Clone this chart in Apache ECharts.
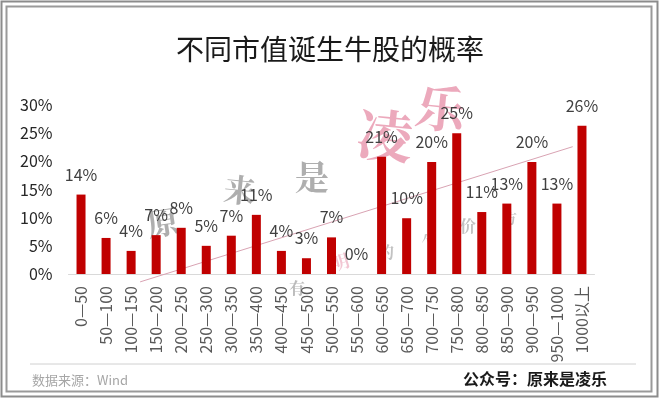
<!DOCTYPE html>
<html>
<head>
<meta charset="utf-8">
<script src="https://cdn.jsdelivr.net/npm/echarts@6/dist/echarts.min.js"></script>
<style>
html,body{margin:0;padding:0;background:#fff;}
#main{width:660px;height:399px;}
</style>
</head>
<body>
<div id="main"></div>
<script>
// 市值区间
var categories = ['0—50','50—100','100—150','150—200','200—250','250—300','300—350','350—400','400—450','450—500','500—550','550—600','600—650','650—700','700—750','750—800','800—850','850—900','900—950','950—1000','1000以上'];
// 牛股概率(%)
var probValues = [14.1, 6.4, 4.1, 6.9, 8.2, 5.0, 6.8, 10.5, 4.1, 2.8, 6.5, 0, 20.8, 9.9, 19.9, 25.0, 11.0, 12.5, 19.9, 12.5, 26.3];
// 趋势线两端(类目序号, 百分比)
var trendX = [2.36, 19.63];
var trendY = [-1.4, 22.6];
var yTicks = [0, 5, 10, 15, 20, 25, 30];

var fontCJK = '"Noto Sans CJK SC", "Noto Sans", sans-serif';
var myChart = echarts.init(document.getElementById('main'));

var trendData = [];
for (var i = 0; i < trendX.length; i++) {
	trendData.push([trendX[i], trendY[i]]);
}

//水印文字
var marks = [
	{t:'原', x:163, y:222, s:32, c:'rgba(120,120,120,0.6)', r:0.15},
	{t:'来', x:240, y:190, s:32, c:'rgba(120,120,120,0.6)', r:-0.1},
	{t:'是', x:312, y:177, s:34, c:'rgba(120,120,120,0.6)', r:0},
	{t:'凌', x:385, y:135, s:56, c:'rgba(230,140,165,0.75)', r:-0.1},
	{t:'乐', x:440, y:108, s:50, c:'rgba(230,140,165,0.75)', r:-0.1},
	{t:'有', x:297, y:288, s:16, c:'rgba(120,120,120,0.5)', r:0},
	{t:'明', x:340, y:262, s:18, c:'rgba(230,140,165,0.5)', r:0.3},
	{t:'的', x:386, y:252, s:16, c:'rgba(120,120,120,0.45)', r:0},
	{t:'个', x:428, y:240, s:14, c:'rgba(120,120,120,0.45)', r:0.3},
	{t:'价', x:468, y:226, s:16, c:'rgba(120,120,120,0.45)', r:0},
	{t:'方', x:510, y:218, s:14, c:'rgba(120,120,120,0.45)', r:0}
];
var markGraphics = marks.map(function(m){
	return {
		type:'text', x:m.x, y:m.y, rotation:m.r, z:0,
		style:{text:m.t, fill:m.c, fontSize:m.s, fontWeight:'bold', fontFamily:'"Noto Serif CJK SC", ' + fontCJK, align:'center', verticalAlign:'middle'}
	};
});

var option = {
	backgroundColor:'#fff',
	animation:false,
	title:{
		text:'不同市值诞生牛股的概率',
		left:'center',
		top:30,
		textStyle:{fontSize:28, fontWeight:'normal', color:'#1a1a1a', fontFamily:fontCJK}
	},
	grid:{left:68.5, right:65.5, top:105, bottom:125},
	xAxis:[
		{
			type:'category',
			data:categories,
			axisLine:{lineStyle:{color:'#d9d9d9', width:1}},
			axisTick:{show:false},
			axisLabel:{rotate:90, interval:0, margin:12, fontSize:16, color:'#595959', fontFamily:fontCJK}
		},
		{
			type:'value', min:-0.5, max:20.5, show:false
		}
	],
	yAxis:{
		type:'value',
		min:yTicks[0],
		max:yTicks[yTicks.length-1],
		interval:5,
		axisLine:{show:false},
		axisTick:{show:false},
		splitLine:{show:false},
		axisLabel:{margin:16, fontSize:16, color:'#262626', fontFamily:fontCJK, formatter:'{value}%'}
	},
	series:[
		{
			type:'bar',
			data:probValues,
			barWidth:9,
			itemStyle:{color:'#C00000'},
			z:3,
			label:{
				show:true,
				position:'top',
				distance:12,
				fontSize:16,
				color:'#404040',
				fontFamily:fontCJK,
				formatter:function(p){ return Math.round(p.value) + '%'; }
			}
		},
		{
			type:'line',
			xAxisIndex:1,
			data:trendData,
			clip:false,
			symbol:'none',
			z:2,
			lineStyle:{color:'#d9a3b3', width:1}
		}
	],
	graphic:[
		{type:'rect', shape:{x:1.5, y:1.5, width:656, height:395}, style:{fill:'none', stroke:'#8c8c8c', lineWidth:2}, z:10},
		{type:'rect', shape:{x:6.5, y:6.5, width:645, height:385}, style:{fill:'none', stroke:'#9a9a9a', lineWidth:2}, z:10},
		{type:'line', shape:{x1:30, y1:364, x2:636, y2:364}, style:{stroke:'#d0d0d0', lineWidth:1}},
		{type:'text', x:32, y:380, style:{text:'数据来源：Wind', fill:'#a6a6a6', fontSize:13, fontFamily:fontCJK, verticalAlign:'middle'}},
		{type:'text', x:607, y:379, style:{text:'公众号：原来是凌乐', fill:'#1a1a1a', fontSize:16, fontWeight:'bold', fontFamily:fontCJK, align:'right', verticalAlign:'middle'}}
	].concat(markGraphics)
};
myChart.setOption(option);
</script>
</body>
</html>
